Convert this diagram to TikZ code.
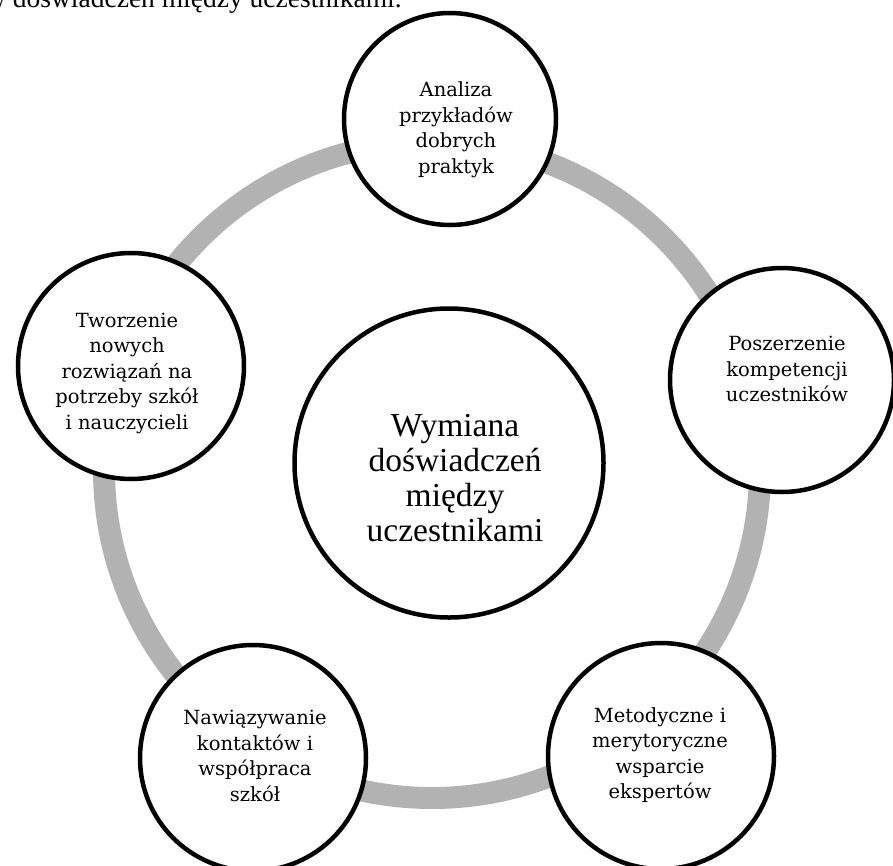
\documentclass[tikz,border=0pt]{standalone}
\usepackage{fontspec}
\setmainfont{Liberation Serif}
\newfontfamily\slabfont{DejaVu Serif}
\begin{document}
\begin{tikzpicture}[x=1pt,y=-1pt,
  ring/.style={draw=black!30, line width=22pt},
  outer/.style={circle, draw=black, line width=4.5pt, fill=white, inner sep=0pt, align=center},
  outertext/.style={align=center, font=\slabfont\fontsize{19.5}{25.5}\selectfont},
  centertext/.style={align=center, font=\fontsize{33.5}{35}\selectfont}]
\useasboundingbox (0,0) rectangle (893,865);
\node[anchor=base west, inner sep=0pt, font=\fontsize{27.5}{30}\selectfont] (title) at (-14,7) {w doświadczeń między uczestnikami.};
\coordinate (rc) at (432,470);
\draw[ring] (rc) circle[radius=328];
\node[outer, minimum size=309pt] (c) at (449,463) {};
\node[centertext] (ct) at (455,478) {Wymiana\\doświadczeń\\między\\uczestnikami};
\node[outer, minimum size=212pt] (n1) at (450,119) {};
\node[outertext] (t1) at (456,130) {Analiza\\przykładów\\dobrych\\praktyk};
\node[outer, minimum size=224pt] (n2) at (782,380) {};
\node[outertext] (t2) at (787,369) {Poszerzenie\\kompetencji\\uczestników};
\node[outer, minimum size=226pt] (n3) at (661,756) {};
\node[outertext] (t3) at (660,755) {Metodyczne i\\merytoryczne\\wsparcie\\ekspertów};
\node[outer, minimum size=226pt] (n4) at (253,758) {};
\node[outertext] (t4) at (255,756) {Nawiązywanie\\kontaktów i\\współpraca\\szkół};
\node[outer, minimum size=226pt] (n5) at (131,366) {};
\node[outertext] (t5) at (127,373) {Tworzenie\\nowych\\rozwiązań na\\potrzeby szkół\\i nauczycieli};
\end{tikzpicture}
\end{document}
